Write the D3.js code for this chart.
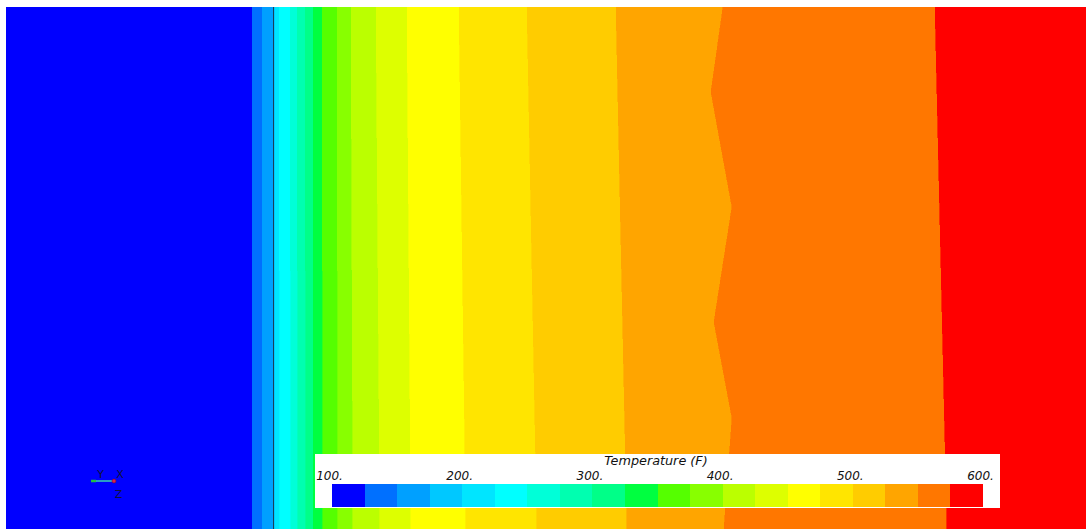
<!DOCTYPE html>
<html>
<head>
<meta charset="utf-8">
<script src="https://cdn.jsdelivr.net/npm/d3@7"></script>
<style>
  html, body { margin: 0; padding: 0; background: #ffffff; }
  svg { display: block; }
</style>
</head>
<body>
<svg id="chart" width="1086" height="529"></svg>
<script>
// Temperature contour bands (deg F), 25-degree intervals from 100 to 600
const contourLevels = [100, 125, 150, 175, 200, 225, 250, 275, 300, 325, 350,
                       375, 400, 425, 450, 475, 500, 525, 550, 575, 600];
const bandColors = ["#0000ff", "#0070ff", "#00a0ff", "#00c8ff", "#00e5ff",
                    "#00ffff", "#00ffd8", "#00ffb0", "#00ff88", "#00ff40",
                    "#55ff00", "#88ff00", "#bbff00", "#ddff00", "#ffff00",
                    "#ffe500", "#ffcc00", "#ffa500", "#ff7700", "#ff0000"];
const colorbarTicks = [100, 200, 300, 400, 500, 600];

// Section extent (in)
const sectionWidth = 10.8;
const sectionHeight = 5.22;

// Isotherm x-positions (in) at the bottom (y = 0) and top (y = height) edges,
// for the interior levels 125 ... 575
const isoLevels = [125, 150, 175, 200, 225, 250, 275, 300, 325, 350,
                   375, 400, 425, 450, 475, 500, 525, 550, 575];
const isoXBottom = [2.46, 2.56, 2.67, 2.69, 2.74, 2.85, 2.92, 3.00, 3.07, 3.17,
                    3.32, 3.47, 3.74, 4.05, 4.60, 5.31, 6.21, 7.18, 9.41];
const isoXTop    = [2.46, 2.56, 2.67, 2.69, 2.73, 2.84, 2.91, 2.99, 3.07, 3.16,
                    3.31, 3.45, 3.70, 4.01, 4.53, 5.21, 6.10, 7.17, 9.29];
// The 550 F isotherm bends at the mesh nodes: [x, y] pairs (in), bottom to top
const iso550Nodes = [[7.18, 0.00], [7.26, 1.11], [7.08, 2.07],
                     [7.26, 3.22], [7.05, 4.37], [7.17, 5.22]];
// Material interface line (in)
const interfaceX = 2.675;

const svg = d3.select("#chart");
const plot = { left: 6, top: 7, right: 1086, bottom: 529 };

const x = d3.scaleLinear().domain([0, sectionWidth]).range([plot.left, plot.right]);
const y = d3.scaleLinear().domain([0, sectionHeight]).range([plot.bottom, plot.top]);

// Build each isotherm as a polyline running bottom -> top
const isotherms = isoLevels.map((lv, i) =>
  lv === 550 ? iso550Nodes.map(d => d.slice())
             : [[isoXBottom[i], 0], [isoXTop[i], sectionHeight]]);
const leftEdge = [[0, 0], [0, sectionHeight]];
const rightEdge = [[sectionWidth, 0], [sectionWidth, sectionHeight]];
const bounds = [leftEdge, ...isotherms, rightEdge];

const line = d3.line().x(d => x(d[0])).y(d => y(d[1]));

// Filled bands between consecutive isotherms
const bands = bandColors.map((c, i) => {
  const lo = bounds[i], hi = bounds[i + 1];
  return { color: c, pts: [...lo, ...hi.slice().reverse()] };
});

svg.append("g").attr("class", "bands")
  .selectAll("path").data(bands).join("path")
  .attr("d", d => line(d.pts) + "Z")
  .attr("fill", d => d.color)
  .attr("stroke", d => d.color)
  .attr("stroke-width", 0.6)
  .attr("shape-rendering", "crispEdges");

// Interface line
svg.append("line")
  .attr("x1", x(interfaceX)).attr("x2", x(interfaceX))
  .attr("y1", y(0)).attr("y2", y(sectionHeight))
  .attr("stroke", "#1a4058").attr("stroke-width", 1);

// Coordinate triad
const triad = svg.append("g").attr("class", "triad");
triad.append("line").attr("x1", 92).attr("x2", 114).attr("y1", 481).attr("y2", 481)
  .attr("stroke", "#2a9cc4").attr("stroke-width", 2);
triad.append("line").attr("x1", 91).attr("x2", 96).attr("y1", 481).attr("y2", 481)
  .attr("stroke", "#22c040").attr("stroke-width", 2.5);
triad.append("circle").attr("cx", 114).attr("cy", 481).attr("r", 2)
  .attr("fill", "#e0204a").attr("stroke", "#701030").attr("stroke-width", 0.6);
triad.selectAll("text")
  .data([["Y", 100.5, 477.5], ["X", 120, 477.5], ["Z", 118.5, 497.5]])
  .join("text")
  .attr("x", d => d[1]).attr("y", d => d[2])
  .attr("text-anchor", "middle")
  .attr("font-family", "DejaVu Sans, sans-serif")
  .attr("font-size", 11)
  .attr("fill", "#10103a")
  .text(d => d[0]);

// Colour legend
const legend = svg.append("g").attr("class", "legend");
legend.append("rect")
  .attr("x", 315).attr("y", 454).attr("width", 685).attr("height", 54)
  .attr("fill", "#ffffff");

const cb = d3.scaleLinear().domain([contourLevels[0], contourLevels[contourLevels.length - 1]])
  .range([332, 983]);

legend.selectAll("rect.swatch")
  .data(bandColors).join("rect")
  .attr("class", "swatch")
  .attr("x", (d, i) => cb(contourLevels[i]))
  .attr("width", (d, i) => cb(contourLevels[i + 1]) - cb(contourLevels[i]))
  .attr("y", 484).attr("height", 23)
  .attr("fill", d => d)
  .attr("shape-rendering", "crispEdges");

legend.selectAll("text.tick")
  .data(colorbarTicks).join("text")
  .attr("class", "tick")
  .attr("x", d => cb(d) - 2.5)
  .attr("y", 480)
  .attr("text-anchor", "middle")
  .attr("font-family", "DejaVu Sans, sans-serif")
  .attr("font-style", "italic")
  .attr("font-size", 12)
  .attr("fill", "#111111")
  .text(d => d + ".");

legend.append("text")
  .attr("x", 656).attr("y", 465)
  .attr("text-anchor", "middle")
  .attr("font-family", "DejaVu Sans, sans-serif")
  .attr("font-style", "italic")
  .attr("font-size", 12.8)
  .attr("fill", "#111111")
  .text("Temperature (F)");
</script>
</body>
</html>
